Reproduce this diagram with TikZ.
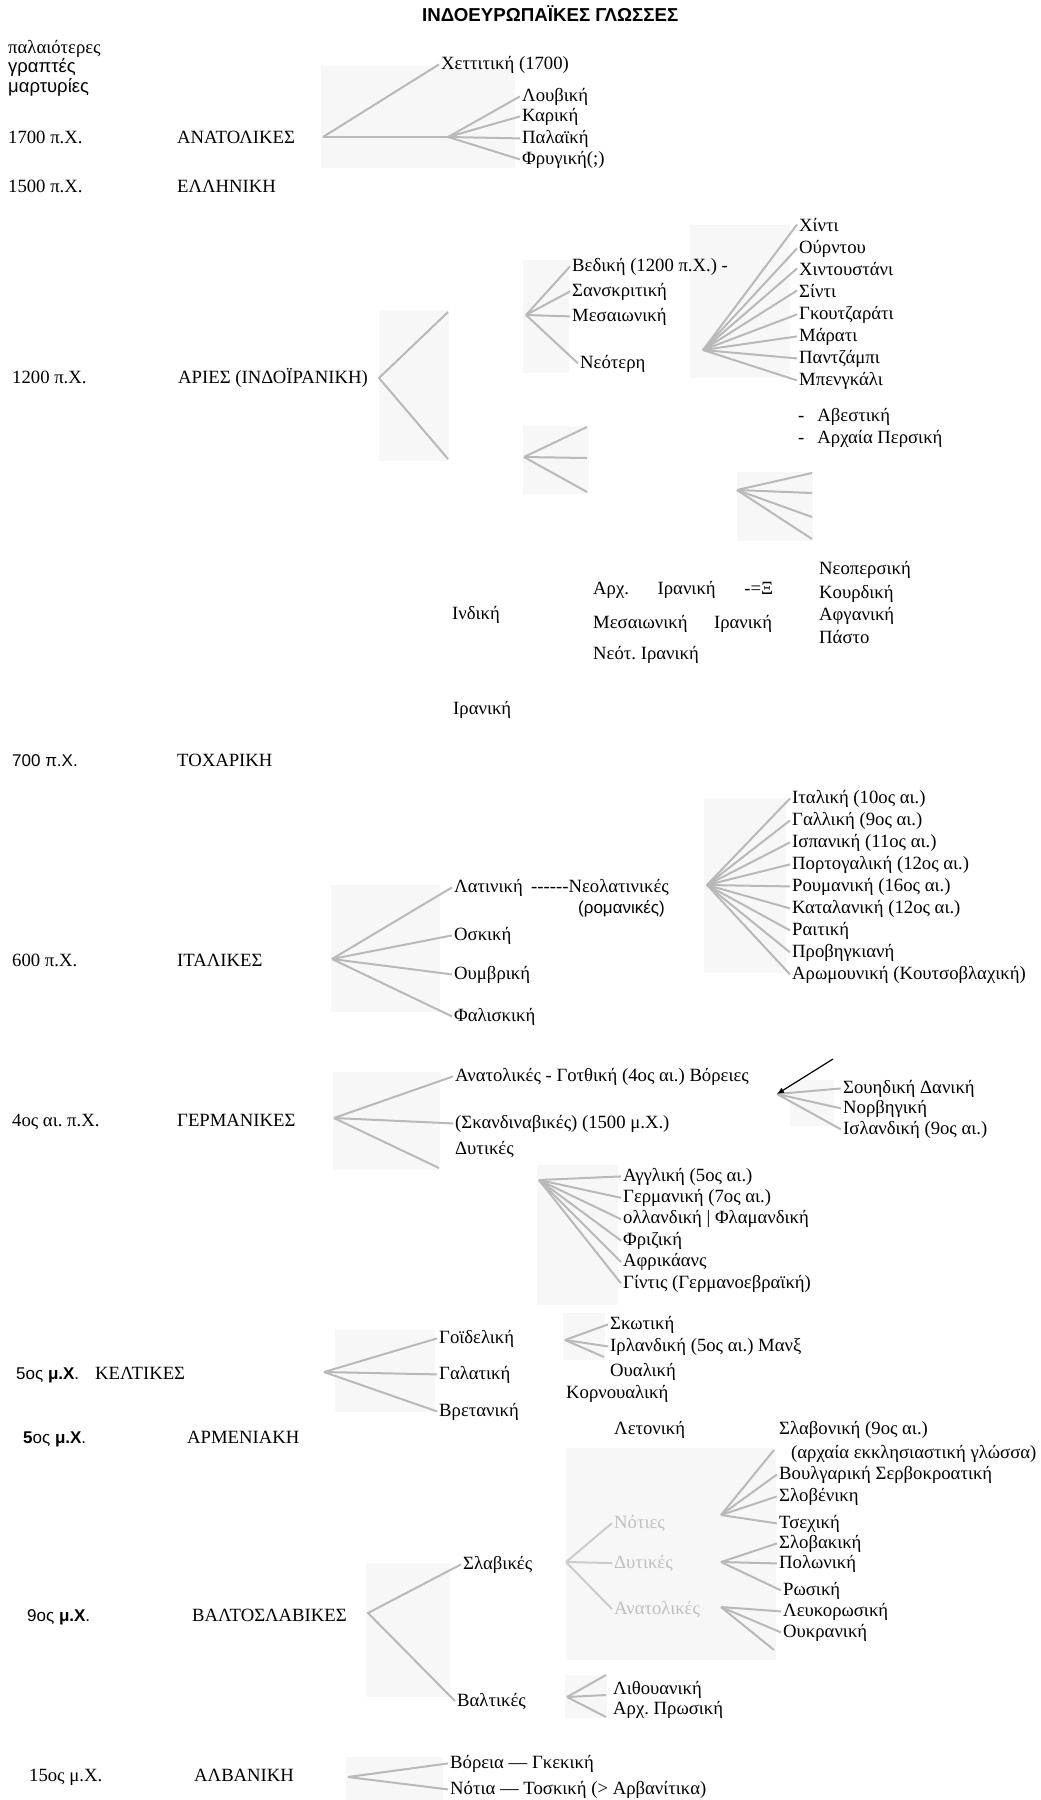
\documentclass[tikz,border=0pt]{standalone}
\usepackage{fontspec}
\setmainfont{Liberation Serif}
\setsansfont{Liberation Sans}
\usetikzlibrary{arrows.meta,positioning}
\frenchspacing
\tikzstyle{lbl} = [anchor=base west,inner sep=2pt,font=\fontsize{18.7}{22}\selectfont]
\tikzstyle{slbl} = [anchor=base west,inner sep=2pt,font=\sffamily\fontsize{17}{20}\selectfont]
\tikzstyle{faded} = [lbl,text=gray!50]
\tikzstyle{branch} = [draw=gray!55,line width=2pt]
\tikzstyle{patch} = [fill=gray!6]
\tikzset{>=latex}
\newcommand{\hy}{\mbox{-}}

\begin{document}
\begin{tikzpicture}[x=1pt,y=-1pt]
    \useasboundingbox (0,0) rectangle (1041,1800);
    \foreach \xa/\ya/\xb/\yb in {321/66/515/168,379/310/449/461,523/260/569/373,690/225/790/378,523/426/589/494,737/472/813/541,331/885/440/1012,704/798/786/973,333/1072/440/1170,790/1080/834/1126,537/1165/618/1305,335/1330/435/1412,563/1313/605/1360,566/1448/776/1660,366/1563/450/1697,565/1675/607/1718,346/1757/443/1800}
      \fill[patch] (\xa,\ya) rectangle (\xb,\yb);

    \node [anchor=base west,inner sep=0pt,font=\sffamily\bfseries\fontsize{18.7}{22}\selectfont] (title) at (422,21) {ΙΝΔΟΕΥΡΩΠΑΪΚΕΣ ΓΛΩΣΣΕΣ};
    \node [lbl] (pal) at (6,53) {παλαιότερες};
    \node [slbl,font=\sffamily\fontsize{18.5}{20}\selectfont] (grap) at (6,72) {γραπτές};
    \node [slbl,font=\sffamily\fontsize{18.5}{20}\selectfont] (mart) at (6,92) {μαρτυρίες};

    \node [lbl] (d1700) at (6,143) {1700 π.Χ.};
    \node [lbl] (anat) at (175,143) {ΑΝΑΤΟΛΙΚΕΣ};
    \coordinate (anatR) at (323,137);
    \coordinate (anatH) at (448,137);
    \node [lbl] (hett) at (439,69) {Χεττιτική (1700)};
    \node [lbl] (luv) at (520,101) {Λουβική};
    \node [lbl] (kar) at (520,121) {Καρική};
    \node [lbl] (pala) at (520,143) {Παλαϊκή};
    \node [lbl] (fry) at (520,164) {Φρυγική(;)};
    \draw [branch] (anatR) -- (hett.west);
    \draw [branch] (anatR) -- (anatH);
    \foreach \t in {luv,kar,pala,fry} \draw [branch] (anatH) -- (\t.west);

    \node [lbl] (d1500) at (6,192) {1500 π.Χ.};
    \node [lbl] (ell) at (175,192) {ΕΛΛΗΝΙΚΗ};

    \node [lbl] (d1200) at (10,383) {1200 π.Χ.};
    \node [lbl] (arya) at (176,383) {ΑΡΙΕΣ (ΙΝΔΟΪΡΑΝΙΚΗ)};
    \coordinate (aryaR) at (379,378);
    \coordinate (aryaU) at (448,312);
    \coordinate (aryaD) at (448,459);
    \draw [branch] (aryaU) -- (aryaR) -- (aryaD);

    \coordinate (indR) at (526,315);
    \node [lbl] (ved) at (570,271) {Βεδική (1200 π.Χ.) -};
    \node [lbl] (sansk) at (570,296) {Σανσκριτική};
    \node [lbl] (mesI) at (570,321) {Μεσαιωνική};
    \node [lbl] (neot) at (578,368) {Νεότερη};
    \foreach \t in {ved,sansk,mesI,neot} \draw [branch] (indR) -- (\t.west);

    \coordinate (hinR) at (703,350);
    \foreach \n/\t [count=\i from 0] in {hin/Χίντι,urd/Ούρντου,hindou/Χιντουστάνι,sind/Σίντι,gouj/Γκουτζαράτι,marat/Μάρατι,pantz/Παντζάμπι,beng/Μπενγκάλι}
      {\node [lbl] (\n) at (797,231+22*\i) {\t};
       \draw [branch] (hinR) -- (\n.west);}
    \node [lbl] (avest) at (796,421) {-\hspace{13pt}Αβεστική};
    \node [lbl] (arpers) at (796,443) {-\hspace{13pt}Αρχαία Περσική};

    \coordinate (iraR) at (524,457);
    \foreach \y [count=\i] in {427,458,492}
      {\coordinate (iraE\i) at (587,\y);
       \draw [branch] (iraR) -- (iraE\i);}
    \coordinate (perR) at (737,490);
    \foreach \y [count=\i] in {473,493,517,539}
      {\coordinate (perE\i) at (812,\y);
       \draw [branch] (perR) -- (perE\i);}
    \node [lbl] (neop) at (817,574) {Νεοπερσική};
    \node [lbl] (kourd) at (817,598) {Κουρδική};
    \node [lbl] (afg) at (817,620) {Αφγανική};
    \node [lbl] (past) at (817,643) {Πάστο};
    \node [lbl] (arxir) at (591,594) {\makebox[180pt][l]{Αρχ.\hfill Ιρανική\hfill -=Ξ}};
    \node [lbl] (mesir) at (591,628) {\makebox[179pt][l]{Μεσαιωνική\hfill Ιρανική}};
    \node [lbl] (neoir) at (591,659) {Νεότ. Ιρανική};
    \node [lbl] (indk) at (450,619) {Ινδική};
    \node [lbl] (irank) at (451,714) {Ιρανική};

    \node [slbl] (d700) at (10,766) {700 π.Χ.};
    \node [lbl] (toch) at (175,766) {ΤΟΧΑΡΙΚΗ};

    \node [lbl] (d600) at (10,966) {600 π.Χ.};
    \node [lbl] (ital) at (175,966) {ΙΤΑΛΙΚΕΣ};
    \coordinate (italR) at (332,959);
    \node [lbl] (lat) at (452,892) {Λατινική};
    \node [lbl] (osk) at (452,940) {Οσκική};
    \node [lbl] (oumv) at (452,979) {Ουμβρική};
    \node [lbl] (fal) at (452,1021) {Φαλισκική};
    \foreach \t in {lat,osk,oumv,fal} \draw [branch] (italR) -- (\t.west);
    \node [lbl] (neolat) at (529,892) {\hy\hy\hy\hy\hy\hy Νεολατινικές};
    \node [slbl] (rom) at (576,913) {(ρομανικές)};
    \coordinate (romR) at (707,885);
    \foreach \n/\t [count=\i from 0] in {itk/Ιταλική (10ος αι.),gal/Γαλλική (9ος αι.),isp/Ισπανική (11ος αι.),port/Πορτογαλική (12ος αι.),roum/Ρουμανική (16ος αι.),katal/Καταλανική (12ος αι.),rait/Ραιτική,prov/Προβηγκιανή,arom/Αρωμουνική (Κουτσοβλαχική)}
      {\node [lbl] (\n) at (790,803+22*\i) {\t};
       \draw [branch] (romR) -- (\n.west);}

    \node [lbl] (d4) at (10,1126) {4ος αι. π.Χ.};
    \node [lbl] (germ) at (175,1126) {ΓΕΡΜΑΝΙΚΕΣ};
    \coordinate (germR) at (334,1118);
    \node [lbl] (anatg) at (453,1081) {Ανατολικές - Γοτθική (4ος αι.) Βόρειες};
    \node [lbl] (skand) at (453,1128) {(Σκανδιναβικές) (1500 μ.Χ.)};
    \node [lbl] (dyt) at (453,1154) {Δυτικές};
    \coordinate (germD) at (439,1168);
    \draw [branch] (germR) -- (anatg.west);
    \draw [branch] (germR) -- (skand.west);
    \draw [branch] (germR) -- (germD);

    \coordinate (norR) at (777,1094);
    \coordinate (norA) at (833,1059);
    \node [lbl] (swed) at (841,1093) {Σουηδική Δανική};
    \node [lbl] (norv) at (841,1113) {Νορβηγική};
    \node [lbl] (isl) at (841,1134) {Ισλανδική (9ος αι.)};
    \foreach \t in {swed,norv,isl} \draw [branch] (norR) -- (\t.west);
    \draw [line width=1.2pt,-{Latex[length=7pt,width=6pt]}] (norA) -- (norR);

    \coordinate (wgR) at (539,1180);
    \foreach \n/\t [count=\i from 0] in {angl/Αγγλική (5ος αι.),germk/Γερμανική (7ος αι.),oll/ολλανδική | Φλαμανδική,friz/Φριζική,afr/Αφρικάανς,gint/Γίντις (Γερμανοεβραϊκή)}
      {\node [lbl] (\n) at (621,1181+21.4*\i) {\t};
       \draw [branch] (wgR) -- (\n.west);}

    \node [slbl] (d5a) at (14,1379) {5ος {\bfseries μ.Χ}.};
    \node [lbl] (kelt) at (93,1379) {ΚΕΛΤΙΚΕΣ};
    \coordinate (keltR) at (324,1372);
    \node [lbl] (goid) at (437,1343) {Γοϊδελική};
    \node [lbl] (galat) at (437,1379) {Γαλατική};
    \node [lbl] (vret) at (437,1416) {Βρετανική};
    \foreach \t in {goid,galat,vret} \draw [branch] (keltR) -- (\t.west);
    \coordinate (goiR) at (565,1340);
    \coordinate (goiE) at (604,1357);
    \node [lbl] (skot) at (608,1329) {Σκωτική};
    \node [lbl] (irl) at (608,1351) {Ιρλανδική (5ος αι.) Μανξ};
    \node [lbl] (oual) at (608,1376) {Ουαλική};
    \node [lbl] (korn) at (564,1398) {Κορνουαλική};
    \draw [branch] (goiR) -- (skot.west);
    \draw [branch] (goiR) -- (irl.west);
    \draw [branch] (goiR) -- (goiE);

    \node [slbl] (d5b) at (21,1443) {{\bfseries 5}ος {\bfseries μ.Χ}.};
    \node [lbl] (arm) at (185,1443) {ΑΡΜΕΝΙΑΚΗ};
    \node [lbl] (leton) at (612,1434) {Λετονική};
    \node [lbl] (slavon) at (777,1434) {Σλαβονική (9ος αι.)};
    \node [lbl] (arxekk) at (789,1458) {(αρχαία εκκλησιαστική γλώσσα)};

    \node [lbl] (slav) at (461,1569) {Σλαβικές};
    \coordinate (slavR) at (566,1562);
    \node [faded] (notS) at (612,1528) {Νότιες};
    \node [faded] (dytS) at (612,1568) {Δυτικές};
    \node [faded] (anatS) at (612,1614) {Ανατολικές};
    \foreach \t in {notS,dytS,anatS} \draw [branch,draw=gray!40] (slavR) -- (\t.west);
    \coordinate (notR) at (721,1515);
    \coordinate (notE) at (774,1450);
    \node [lbl] (voul) at (777,1479) {Βουλγαρική Σερβοκροατική};
    \node [lbl] (slov) at (777,1501) {Σλοβένικη};
    \node [lbl] (tsex) at (777,1528) {Τσεχική};
    \draw [branch] (notR) -- (notE);
    \foreach \t in {voul,slov,tsex} \draw [branch] (notR) -- (\t.west);
    \coordinate (dytR) at (721,1562);
    \node [lbl] (slovak) at (777,1548) {Σλοβακική};
    \node [lbl] (pol) at (777,1568) {Πολωνική};
    \node [lbl] (ros) at (781,1595) {Ρωσική};
    \foreach \t in {slovak,pol,ros} \draw [branch] (dytR) -- (\t.west);
    \coordinate (anR) at (721,1607);
    \coordinate (anE) at (774,1650);
    \node [lbl] (lefk) at (781,1616) {Λευκορωσική};
    \node [lbl] (oukr) at (781,1637) {Ουκρανική};
    \foreach \t in {lefk,oukr} \draw [branch] (anR) -- (\t.west);
    \draw [branch] (anR) -- (anE);

    \node [slbl] (d9) at (25,1621) {9ος {\bfseries μ.Χ}.};
    \node [lbl] (baltsl) at (190,1621) {ΒΑΛΤΟΣΛΑΒΙΚΕΣ};
    \coordinate (bsR) at (368,1613);
    \node [lbl] (balt) at (455,1706) {Βαλτικές};
    \draw [branch] (slav.west) -- (bsR) -- (balt.west);
    \coordinate (baltR) at (567,1697);
    \foreach \y [count=\i] in {1675,1695,1717}
      {\coordinate (baltE\i) at (606,\y);
       \draw [branch] (baltR) -- (baltE\i);}
    \node [lbl] (lith) at (611,1694) {Λιθουανική};
    \node [lbl] (prosk) at (611,1714) {Αρχ. Πρωσική};

    \node [lbl] (d15) at (27,1781) {15ος μ.Χ.};
    \node [lbl] (alb) at (192,1781) {ΑΛΒΑΝΙΚΗ};
    \coordinate (albR) at (348,1777);
    \node [lbl] (vor) at (448,1768) {Βόρεια — Γκεκική};
    \node [lbl] (notA) at (448,1794) {Νότια — Τοσκική (> Αρβανίτικα)};
    \draw [branch] (albR) -- (vor.west);
    \draw [branch] (albR) -- (notA.west);
\end{tikzpicture}
\end{document}
